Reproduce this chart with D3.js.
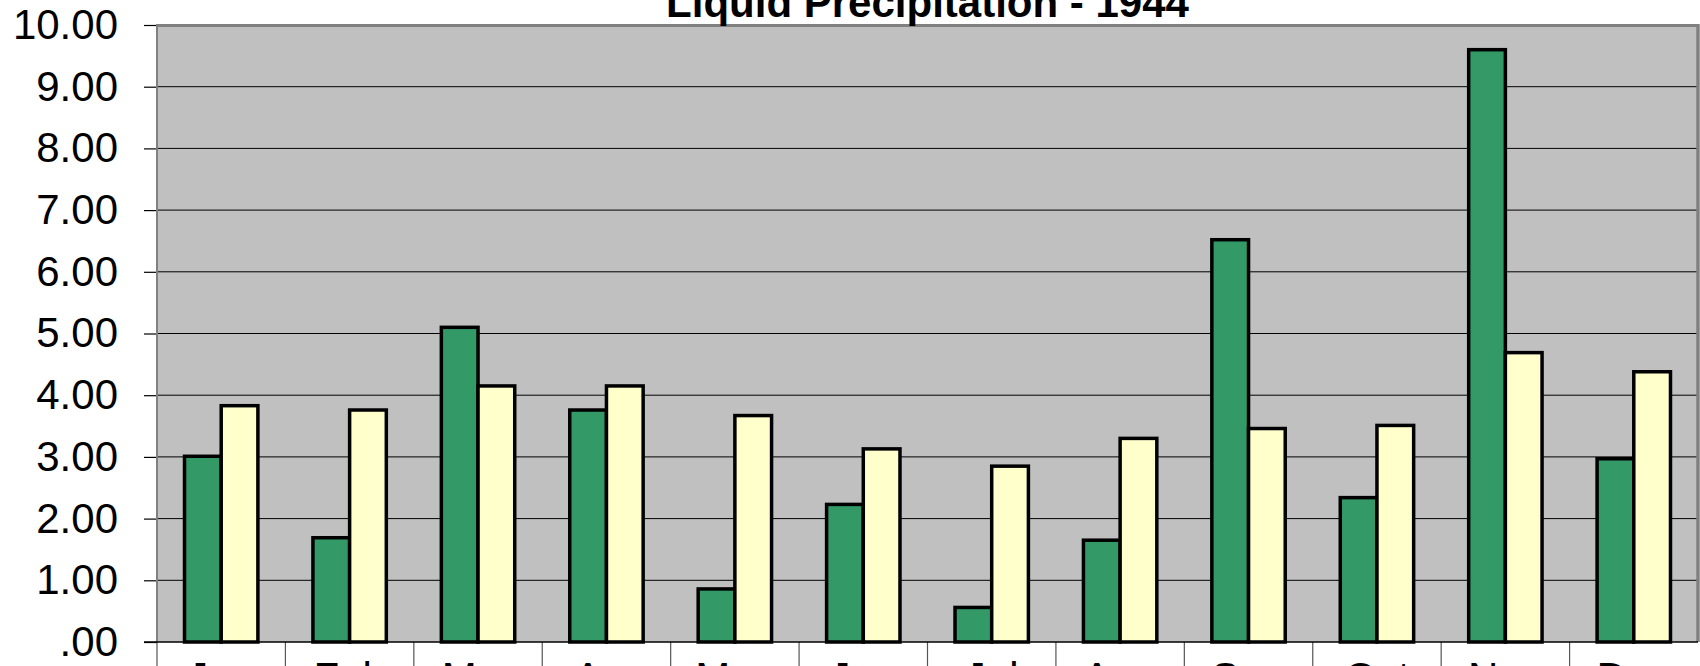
<!DOCTYPE html>
<html>
<head>
<meta charset="utf-8">
<script src="https://cdn.jsdelivr.net/npm/d3@7"></script>
<style>
  html, body { margin: 0; padding: 0; background: #ffffff; overflow: hidden; }
  svg { display: block; }
  text { font-family: "Liberation Sans", Arial, sans-serif; }
</style>
</head>
<body>
<svg id="chart" width="1700" height="666"></svg>
<script>
const title = "Liquid Precipitation - 1944";
const months = ["Jan", "Feb", "Mar", "Apr", "May", "Jun", "Jul", "Aug", "Sep", "Oct", "Nov", "Dec"];
const precip1944 = [3.01, 1.69, 5.10, 3.76, 0.86, 2.23, 0.56, 1.65, 6.52, 2.34, 9.60, 2.97];
const normalPrecip = [3.83, 3.76, 4.15, 4.15, 3.67, 3.13, 2.85, 3.30, 3.46, 3.51, 4.69, 4.38];
const yTicks = [0, 1, 2, 3, 4, 5, 6, 7, 8, 9, 10];
const seriesNames = ["1944", "Normal"];
const seriesColors = ["#339966", "#FFFFCC"];

const svg = d3.select("#chart");
const plot = { left: 157, right: 1698, top: 25, bottom: 642 };

const x = d3.scaleBand().domain(months).range([plot.left, plot.right]).paddingInner(0).paddingOuter(0);
// bar width = bandwidth / 3.5 (gap width 150%)
const barW = x.bandwidth() / 3.5;
const y = d3.scaleLinear().domain([0, 10]).range([plot.bottom, plot.top]);

// plot background
svg.append("rect")
  .attr("x", plot.left).attr("y", plot.top)
  .attr("width", plot.right - plot.left).attr("height", plot.bottom - plot.top)
  .attr("fill", "#C0C0C0");

// gridlines
svg.append("g").selectAll("line").data(yTicks.filter(d => d > 0 && d < 10)).join("line")
  .attr("x1", plot.left).attr("x2", plot.right)
  .attr("y1", d => y(d)).attr("y2", d => y(d))
  .attr("stroke", "#000").attr("stroke-width", 1);

// y axis
const fmt = v => d3.format(".2f")(v).replace(/^0\./, ".");
const yAxis = d3.axisLeft(y).tickValues(yTicks).tickFormat(fmt).tickSize(13).tickPadding(26);
const gy = svg.append("g").attr("transform", `translate(${plot.left},0)`).call(yAxis);
gy.select(".domain").remove();
gy.selectAll(".tick line").attr("stroke", "#000").attr("stroke-width", 1.2);
gy.selectAll(".tick text")
  .attr("font-size", 42).attr("fill", "#000")
  .style("font-family", "'Liberation Sans', Arial, sans-serif");

// bars
const data = months.map((m, i) => ({ m, vals: [precip1944[i], normalPrecip[i]] }));
const groups = svg.append("g").selectAll("g").data(data).join("g")
  .attr("transform", d => `translate(${x(d.m)},0)`);
groups.selectAll("rect").data(d => d.vals.map((v, j) => ({ v, j }))).join("rect")
  .attr("x", d => barW * 0.75 + d.j * barW)
  .attr("y", d => y(d.v))
  .attr("width", barW)
  .attr("height", d => y(0) - y(d.v))
  .attr("fill", d => seriesColors[d.j])
  .attr("stroke", "#000")
  .attr("stroke-width", 3.5)
  .attr("stroke-linejoin", "miter");

// plot border (top/right gray) and left axis
svg.append("line").attr("x1", plot.left - 1).attr("x2", plot.right + 0.5)
  .attr("y1", plot.top + 0.5).attr("y2", plot.top + 0.5)
  .attr("stroke", "#808080").attr("stroke-width", 3);
svg.append("line").attr("x1", plot.right).attr("x2", plot.right)
  .attr("y1", plot.top - 1).attr("y2", plot.bottom)
  .attr("stroke", "#808080").attr("stroke-width", 3.5);
svg.append("line").attr("x1", plot.left).attr("x2", plot.left)
  .attr("y1", plot.top - 1).attr("y2", plot.bottom)
  .attr("stroke", "#808080").attr("stroke-width", 2);

// x axis
const xAxis = d3.axisBottom(x).tickSize(0).tickPadding(50);
const gx = svg.append("g").attr("transform", `translate(0,${plot.bottom})`).call(xAxis);
gx.select(".domain").remove();
gx.selectAll(".tick text")
  .attr("font-size", 42).attr("fill", "#000")
  .attr("dy", 0).attr("y", 50)
  .style("font-family", "'Liberation Sans', Arial, sans-serif");

// category separators
const bounds = months.map(m => x(m));
svg.append("g").selectAll("line").data(bounds).join("line")
  .attr("x1", d => d).attr("x2", d => d)
  .attr("y1", plot.bottom).attr("y2", 666)
  .attr("stroke", "#555").attr("stroke-width", 1.2);

// baseline
svg.append("line").attr("x1", plot.left - 13).attr("x2", plot.right)
  .attr("y1", y(0)).attr("y2", y(0))
  .attr("stroke", "#000").attr("stroke-width", 1.5);

// title
svg.append("text")
  .attr("x", (plot.left + plot.right) / 2).attr("y", 17)
  .attr("text-anchor", "middle")
  .attr("font-size", 42).attr("font-weight", "bold").attr("fill", "#000")
  .text(title);
</script>
</body>
</html>
